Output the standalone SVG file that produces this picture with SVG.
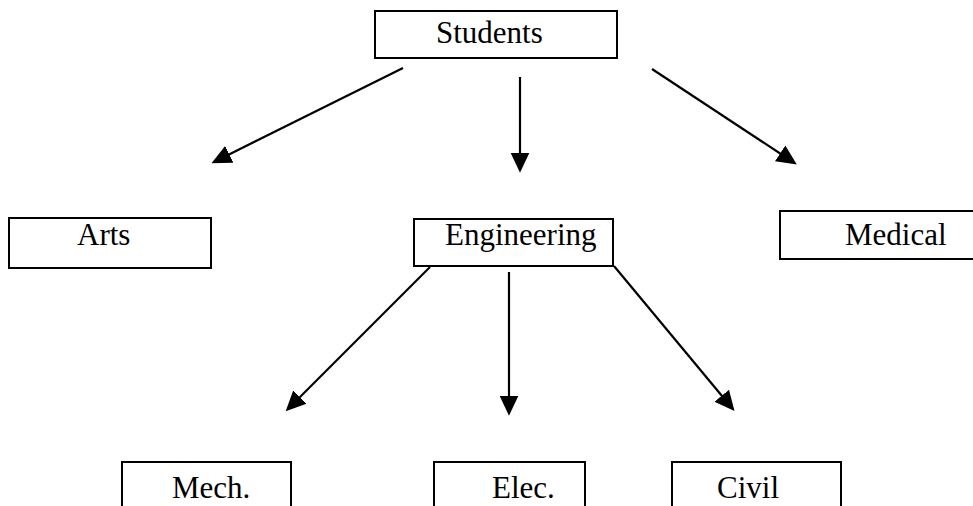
<svg xmlns="http://www.w3.org/2000/svg" width="973" height="506" viewBox="0 0 973 506">
  <style>
    .box { fill: #fff; stroke: #000; stroke-width: 2; }
    .lbl { font-family: "Liberation Serif", "Times New Roman", serif; font-size: 31px; fill: #000; }
    .edge { stroke: #000; stroke-width: 2.2; fill: none; marker-end: url(#head); }
  </style>
  <defs>
    <marker id="head" markerUnits="userSpaceOnUse" markerWidth="20" markerHeight="20" viewBox="0 0 17 16" refX="7" refY="8" orient="auto">
      <path d="M0,0 L17,8 L0,16 Z" fill="#000"/>
    </marker>
  </defs>

  <g id="students">
    <rect class="box" x="375" y="11" width="242" height="47"/>
    <text class="lbl" x="436" y="43">Students</text>
  </g>
  <g id="arts">
    <rect class="box" x="9" y="218" width="202" height="50"/>
    <text class="lbl" x="77" y="245">Arts</text>
  </g>
  <g id="engineering">
    <rect class="box" x="414" y="219" width="199" height="47"/>
    <text class="lbl" x="445" y="245">Engineering</text>
  </g>
  <g id="medical">
    <rect class="box" x="780" y="211" width="200" height="48"/>
    <text class="lbl" x="845" y="245">Medical</text>
  </g>
  <g id="mech">
    <rect class="box" x="122" y="462" width="169" height="60"/>
    <text class="lbl" x="172" y="498">Mech.</text>
  </g>
  <g id="elec">
    <rect class="box" x="434" y="462" width="151" height="60"/>
    <text class="lbl" x="492" y="498">Elec.</text>
  </g>
  <g id="civil">
    <rect class="box" x="672" y="462" width="169" height="60"/>
    <text class="lbl" x="717" y="498">Civil</text>
  </g>

  <g id="connectors">
    <line class="edge" x1="403" y1="68" x2="222" y2="158"/>
    <line class="edge" x1="520" y1="77" x2="520" y2="161"/>
    <line class="edge" x1="652" y1="69" x2="787" y2="158"/>
    <line class="edge" x1="430" y1="267" x2="294" y2="403"/>
    <line class="edge" x1="509" y1="272" x2="509" y2="404"/>
    <line class="edge" x1="614" y1="266" x2="727" y2="402"/>
  </g>
</svg>
